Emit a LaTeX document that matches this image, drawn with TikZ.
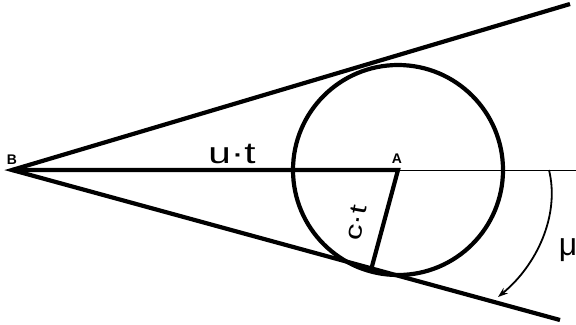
\documentclass[tikz,border=0pt]{standalone}
\usepackage{fontspec}
\setmainfont{Liberation Sans}
\usetikzlibrary{arrows.meta}

\begin{document}
\begin{tikzpicture}[
  x=1bp, y=-1bp,
  thickline/.style={line width=4.2bp, line join=miter},
  thinline/.style={line width=1bp},
  pointlabel/.style={font=\fontsize{14}{14}\selectfont\bfseries, inner sep=0pt},
  biglabel/.style={inner sep=0pt},
]
\useasboundingbox (0,0) rectangle (576,324);
% points of the figure
\coordinate (B) at (12,170);
\coordinate (A) at (398,170);
\coordinate (U) at (570,4);
\coordinate (L) at (560,320);
\coordinate (T) at (371,270);
\coordinate (E) at (576,170);
\coordinate (S) at (549,170);
\coordinate (H) at (498,297);
% cone and circle
\draw[thickline] (U) -- (B) -- (L);
\draw[thickline] (B) -- (A) -- (T);
\draw[thickline] (A) circle (105);
\draw[thinline] (A) -- (E);
\draw[line width=1.8bp, -{Stealth[length=10bp, width=7bp]}] (S) .. controls (560,215) and (537,265) .. (H);
% labels
\node[pointlabel] (lB) at (12,160) {B};
\node[pointlabel] (lA) at (397,159) {A};
\node[biglabel, xscale=1.35, font=\fontsize{30}{30}\selectfont] (ut) at (232,154) {u·t};
\node[biglabel, rotate=80, xscale=1.35, font=\fontsize{24}{24}\selectfont] (ct) at (356,223) {c·t};
\node[biglabel, font=\fontsize{32}{32}\selectfont] (mu) at (568,250) {μ};
\end{tikzpicture}
\end{document}
